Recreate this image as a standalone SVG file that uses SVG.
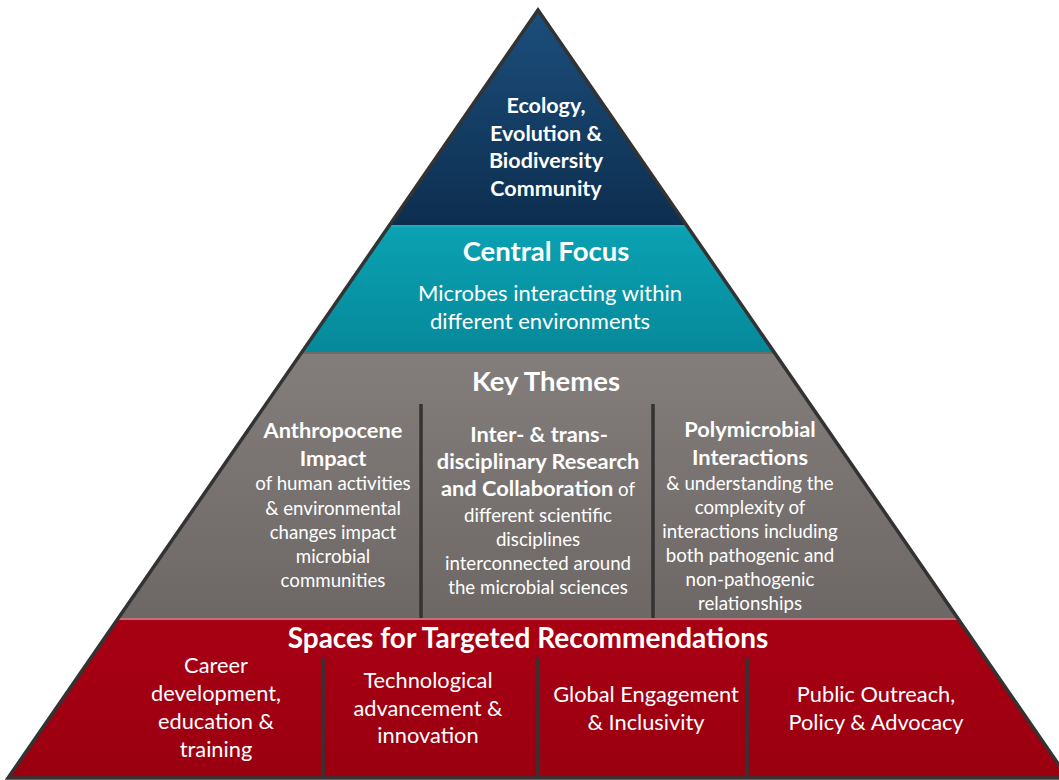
<svg xmlns="http://www.w3.org/2000/svg" width="1059" height="780" viewBox="0 0 1059 780">
  <defs>
    <clipPath id="pyramidClip">
      <polygon points="538,10 8,778 1068,778"/>
    </clipPath>
    <linearGradient id="gBlue" x1="0" y1="0" x2="0" y2="1">
      <stop offset="0" stop-color="#1c507e"/>
      <stop offset="1" stop-color="#0d2e4f"/>
    </linearGradient>
    <linearGradient id="gTeal" x1="0" y1="0" x2="0" y2="1">
      <stop offset="0" stop-color="#0aa2b3"/>
      <stop offset="1" stop-color="#06899a"/>
    </linearGradient>
    <linearGradient id="gGrey" x1="0" y1="0" x2="0" y2="1">
      <stop offset="0" stop-color="#837e7b"/>
      <stop offset="1" stop-color="#6d6866"/>
    </linearGradient>
    <linearGradient id="gRed" x1="0" y1="0" x2="0" y2="1">
      <stop offset="0" stop-color="#a80014"/>
      <stop offset="1" stop-color="#9a0010"/>
    </linearGradient>
    <style>
      text { font-family: Lato, "Open Sans", "Liberation Sans", sans-serif; fill: #ffffff; text-anchor: middle; }
      .top { font-size: 21.5px; font-weight: 700; }
      .h1 { font-size: 27.5px; font-weight: 700; }
      .body { font-size: 22px; }
      .colh { font-size: 21.8px; font-weight: 700; }
      .colb { font-size: 18.7px; }
      .spaces { font-size: 28px; font-weight: 700; }
      .rec { font-size: 21.8px; }
      .div { stroke: #333333; stroke-width: 3.5; }
      .edge { fill: none; stroke: #333333; stroke-width: 3.5; stroke-linejoin: miter; }
    </style>
  </defs>

  <!-- pyramid bands, clipped to the triangle -->
  <g clip-path="url(#pyramidClip)">
    <g id="band-community">
      <rect x="0" y="0" width="1059" height="225" fill="url(#gBlue)"/>
    </g>
    <g id="band-focus">
      <rect x="0" y="225" width="1059" height="127" fill="url(#gTeal)"/>
      <rect x="0" y="225" width="1059" height="2" fill="#26b2c2" opacity="0.6"/>
    </g>
    <g id="band-themes">
      <rect x="0" y="352" width="1059" height="266" fill="url(#gGrey)"/>
      <rect x="0" y="352" width="1059" height="2" fill="#5a5654" opacity="0.5"/>
    </g>
    <g id="band-recommendations">
      <rect x="0" y="618" width="1059" height="162" fill="url(#gRed)"/>
      <rect x="0" y="618" width="1059" height="2" fill="#c9a0a4" opacity="0.7"/>
    </g>
  </g>

  <!-- column separators -->
  <g id="connectors">
    <line class="div" x1="421" y1="404" x2="421" y2="618"/>
    <line class="div" x1="653" y1="404" x2="653" y2="618"/>
    <line class="div" x1="323" y1="657" x2="323" y2="778"/>
    <line class="div" x1="538" y1="657" x2="538" y2="778"/>
    <line class="div" x1="747" y1="657" x2="747" y2="778"/>
  </g>

  <!-- outline -->
  <polygon class="edge" points="538,10 8,778 1068,778"/>

  <!-- texts -->
  <g id="node-community">
    <text class="top" x="546" y="113">Ecology,</text>
    <text class="top" x="546" y="140.5">Evolution &amp;</text>
    <text class="top" x="546" y="168">Biodiversity</text>
    <text class="top" x="546" y="195.5">Community</text>
  </g>

  <g id="node-focus">
    <text class="h1" x="546" y="261">Central Focus</text>
    <text class="body" x="550" y="301">Microbes interacting within</text>
    <text class="body" x="540" y="329">different environments</text>
  </g>

  <g id="node-themes">
    <text class="h1" x="546" y="391">Key Themes</text>
  </g>

  <g id="node-anthropocene">
    <text class="colh" x="333" y="438">Anthropocene</text>
    <text class="colh" x="333" y="466">Impact</text>
    <text class="colb" x="333" y="490">of human activities</text>
    <text class="colb" x="333" y="514.5">&amp; environmental</text>
    <text class="colb" x="333" y="539">changes impact</text>
    <text class="colb" x="333" y="563">microbial</text>
    <text class="colb" x="333" y="587">communities</text>
  </g>

  <g id="node-interdisciplinary">
    <text class="colh" x="539" y="442">Inter- &amp; trans-</text>
    <text class="colh" x="538" y="469">disciplinary Research</text>
    <text x="538" y="496"><tspan class="colh">and Collaboration</tspan><tspan class="colb"> of</tspan></text>
    <text class="colb" x="538" y="522">different scientific</text>
    <text class="colb" x="538" y="546">disciplines</text>
    <text class="colb" x="538" y="570">interconnected around</text>
    <text class="colb" x="538" y="594">the microbial sciences</text>
  </g>

  <g id="node-polymicrobial">
    <text class="colh" x="750" y="437">Polymicrobial</text>
    <text class="colh" x="750" y="465">Interactions</text>
    <text class="colb" x="750" y="490">&amp; understanding the</text>
    <text class="colb" x="750" y="514">complexity of</text>
    <text class="colb" x="750" y="538">interactions including</text>
    <text class="colb" x="750" y="562">both pathogenic and</text>
    <text class="colb" x="750" y="586">non-pathogenic</text>
    <text class="colb" x="750" y="610">relationships</text>
  </g>

  <g id="node-spaces">
    <text class="spaces" x="528" y="648">Spaces for Targeted Recommendations</text>
  </g>

  <g id="node-career">
    <text class="rec" x="216" y="673">Career</text>
    <text class="rec" x="216" y="701">development,</text>
    <text class="rec" x="216" y="728.5">education &amp;</text>
    <text class="rec" x="216" y="756.5">training</text>
  </g>

  <g id="node-technology">
    <text class="rec" x="428" y="688">Technological</text>
    <text class="rec" x="428" y="716">advancement &amp;</text>
    <text class="rec" x="428" y="743">innovation</text>
  </g>

  <g id="node-global">
    <text class="rec" x="646" y="702">Global Engagement</text>
    <text class="rec" x="646" y="729.5">&amp; Inclusivity</text>
  </g>

  <g id="node-outreach">
    <text class="rec" x="876" y="702">Public Outreach,</text>
    <text class="rec" x="876" y="729.5">Policy &amp; Advocacy</text>
  </g>
</svg>
